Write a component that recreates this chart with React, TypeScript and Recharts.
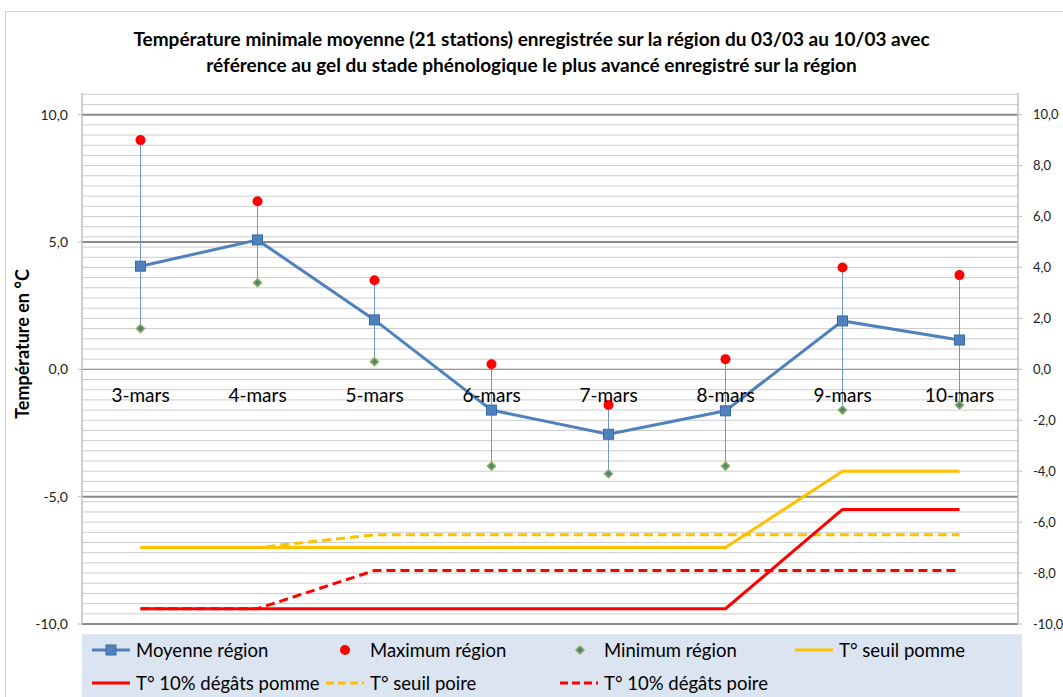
import React from 'react';
import {
  ComposedChart,
  Line,
  XAxis,
  YAxis,
  ReferenceLine,
  ErrorBar,
  LabelList,
} from 'recharts';

const dates = ['3-mars', '4-mars', '5-mars', '6-mars', '7-mars', '8-mars', '9-mars', '10-mars'];
const moyenne = [4.05, 5.08, 1.94, -1.6, -2.55, -1.63, 1.9, 1.15];
const maximum = [9.0, 6.6, 3.5, 0.2, -1.4, 0.4, 4.0, 3.7];
const minimum = [1.6, 3.4, 0.3, -3.8, -4.1, -3.8, -1.6, -1.4];
const seuilPomme = [-7, -7, -7, -7, -7, -7, -4, -4];
const degatsPomme = [-9.4, -9.4, -9.4, -9.4, -9.4, -9.4, -5.5, -5.5];
const seuilPoire = [-7, -7, -6.5, -6.5, -6.5, -6.5, -6.5, -6.5];
const degatsPoire = [-9.4, -9.4, -7.9, -7.9, -7.9, -7.9, -7.9, -7.9];

const leftTicks = [-10, -5, 0, 5, 10];
const rightTicks = [-10, -8, -6, -4, -2, 0, 2, 4, 6, 8, 10];
const majorLines = [-10, -5, 5, 10];
// minor grid every 0.4 (right axis minor unit)
const minorLines = Array.from({ length: 53 }, (_, i) => Math.round((-10 + i * 0.4) * 10) / 10);

const DOMAIN: [number, number] = [-10, 10.85];
const FONT = 'Lato, "Open Sans", sans-serif';
const BLUE = '#4f81bd';

const data = dates.map((d, i) => ({
  date: d,
  moyenne: moyenne[i],
  maximum: maximum[i],
  minimum: minimum[i],
  err: [moyenne[i] - minimum[i], maximum[i] - moyenne[i]],
  seuilPomme: seuilPomme[i],
  degatsPomme: degatsPomme[i],
  seuilPoire: seuilPoire[i],
  degatsPoire: degatsPoire[i],
}));

const fmt = (v: number) => v.toFixed(1).replace('.', ',');

const SquareDot = (props: any) => {
  const { cx, cy, index } = props;
  if (cx == null || cy == null) return <g key={index} />;
  return <rect key={index} x={cx - 5} y={cy - 5} width={10} height={10} fill={BLUE} stroke="#3a6aa5" strokeWidth={1} />;
};

const DiamondDot = (props: any) => {
  const { cx, cy, index } = props;
  if (cx == null || cy == null) return <g key={index} />;
  return (
    <path
      key={index}
      d={`M${cx},${cy - 4} L${cx + 4},${cy} L${cx},${cy + 4} L${cx - 4},${cy} Z`}
      fill="#4f7f8a"
      stroke="#8db052"
      strokeWidth={1.5}
    />
  );
};

const CatLabel = (props: any) => {
  const { x, y, value } = props;
  return (
    <text x={x} y={y + 33} textAnchor="middle" fontFamily={FONT} fontSize={19} fill="#000">
      {value}
    </text>
  );
};

const legendRow1 = [
  { name: 'Moyenne région', kind: 'moy', x: 92 },
  { name: 'Maximum région', kind: 'max', x: 326 },
  { name: 'Minimum région', kind: 'min', x: 560 },
  { name: 'T° seuil pomme', kind: 'line', color: '#ffc000', x: 795 },
];
const legendRow2 = [
  { name: 'T° 10% dégâts pomme', kind: 'line', color: '#ff0000', x: 92 },
  { name: 'T° seuil poire', kind: 'dash', color: '#ffc000', x: 326 },
  { name: 'T° 10% dégâts poire', kind: 'dash', color: '#ff0000', x: 560 },
];

const LegendItem = ({ item, top }: { item: any; top: number }) => (
  <div style={{ position: 'absolute', left: item.x - 82, top, height: 24, display: 'flex', alignItems: 'center' }}>
    <svg width={40} height={24} style={{ display: 'block' }}>
      {item.kind === 'moy' && (
        <>
          <line x1={0} y1={12} x2={38} y2={12} stroke={BLUE} strokeWidth={3} />
          <rect x={14} y={7} width={10} height={10} fill={BLUE} stroke="#3a6aa5" />
        </>
      )}
      {item.kind === 'max' && <circle cx={19} cy={12} r={5} fill="#ff0000" />}
      {item.kind === 'min' && (
        <path d="M20,8 L24,12 L20,16 L16,12 Z" fill="#4f7f8a" stroke="#8db052" strokeWidth={1.5} />
      )}
      {item.kind === 'line' && <line x1={0} y1={12} x2={38} y2={12} stroke={item.color} strokeWidth={3} />}
      {item.kind === 'dash' && (
        <line x1={0} y1={12} x2={38} y2={12} stroke={item.color} strokeWidth={3} strokeDasharray="8 4" />
      )}
    </svg>
    <span style={{ marginLeft: 4, fontFamily: FONT, fontSize: 18.5, color: '#000', whiteSpace: 'nowrap' }}>
      {item.name}
    </span>
  </div>
);

const App: React.FC = () => {
  return (
    <div
      style={{
        position: 'fixed',
        left: 0,
        top: 0,
        width: 1063,
        height: 697,
        overflow: 'hidden',
        background: '#fff',
      }}
    >
      <div
        style={{
          position: 'absolute',
          left: 5,
          top: 11,
          width: 1200,
          height: 800,
          border: '1px solid #d0d0d0',
        }}
      />
      <div
        style={{
          position: 'absolute',
          left: 0,
          top: 26,
          width: 1063,
          textAlign: 'center',
          fontFamily: FONT,
          fontWeight: 'bold',
          fontSize: 19,
          lineHeight: '26px',
          color: '#000',
        }}
      >
        Température minimale moyenne (21 stations) enregistrée sur la région du 03/03 au 10/03 avec
        <br />
        référence au gel du stade phénologique le plus avancé enregistré sur la région
      </div>
      <div
        style={{
          position: 'absolute',
          left: 22,
          top: 344,
          transform: 'translate(-50%, -50%) rotate(-90deg)',
          fontFamily: FONT,
          fontWeight: 'bold',
          fontSize: 18,
          whiteSpace: 'nowrap',
          color: '#000',
        }}
      >
        Température en °C
      </div>
      <div style={{ position: 'absolute', left: 0, top: 0 }}>
        <ComposedChart width={1063} height={697} data={data} margin={{ top: 93, right: 0, bottom: 73, left: 0 }}>
          <XAxis dataKey="date" hide padding={{ left: 58.5, right: 58.5 }} />
          <YAxis
            yAxisId="left"
            width={82}
            domain={DOMAIN}
            type="number"
            ticks={leftTicks}
            tickFormatter={fmt}
            allowDataOverflow
            axisLine={{ stroke: '#bfbfbf', strokeWidth: 1.5 }}
            tickLine={{ stroke: '#bfbfbf' }}
            tickSize={4}
            tickMargin={10}
            tick={{ fontFamily: FONT, fontSize: 14, fill: '#222' }}
          />
          <YAxis
            yAxisId="right"
            orientation="right"
            width={45}
            domain={DOMAIN}
            type="number"
            ticks={rightTicks}
            tickFormatter={fmt}
            allowDataOverflow
            axisLine={{ stroke: '#bfbfbf', strokeWidth: 1.5 }}
            tickLine={{ stroke: '#bfbfbf' }}
            tickSize={4}
            tickMargin={11}
            tick={{ fontFamily: FONT, fontSize: 13, fill: '#222', textAnchor: 'start' }}
          />
          {minorLines.map((v) => (
            <ReferenceLine key={`m${v}`} yAxisId="left" y={v} stroke="#cccccc" strokeWidth={1} ifOverflow="hidden" />
          ))}
          {majorLines.map((v) => (
            <ReferenceLine key={`M${v}`} yAxisId="left" y={v} stroke="#8a8a8a" strokeWidth={2} />
          ))}
          <ReferenceLine yAxisId="left" y={0} stroke="#8a8a8a" strokeWidth={1} />

          <Line
            yAxisId="left"
            dataKey={() => 0}
            stroke="none"
            dot={false}
            activeDot={false}
            isAnimationActive={false}
            legendType="none"
          >
            <LabelList dataKey="date" content={CatLabel} />
          </Line>

          <Line yAxisId="left" dataKey="seuilPomme" stroke="#ffc000" strokeWidth={3} dot={false} isAnimationActive={false} />
          <Line yAxisId="left" dataKey="seuilPoire" stroke="#ffc000" strokeWidth={3} strokeDasharray="9 5" dot={false} isAnimationActive={false} />
          <Line yAxisId="left" dataKey="degatsPomme" stroke="#ff0000" strokeWidth={3} dot={false} isAnimationActive={false} />
          <Line yAxisId="left" dataKey="degatsPoire" stroke="#ff0000" strokeWidth={3} strokeDasharray="9 5" dot={false} isAnimationActive={false} />

          <Line
            yAxisId="left"
            dataKey="moyenne"
            stroke={BLUE}
            strokeWidth={3}
            dot={SquareDot}
            isAnimationActive={false}
          >
            <ErrorBar dataKey="err" width={0} stroke="#6f98c8" strokeWidth={1} direction="y" isAnimationActive={false} />
          </Line>
          <Line
            yAxisId="left"
            dataKey="maximum"
            stroke="none"
            dot={{ r: 5, fill: '#ff0000', stroke: '#ff0000', strokeWidth: 0 }}
            isAnimationActive={false}
          />
          <Line yAxisId="left" dataKey="minimum" stroke="none" dot={DiamondDot} isAnimationActive={false} />
        </ComposedChart>
      </div>
      <div
        style={{
          position: 'absolute',
          left: 82,
          top: 634,
          width: 940,
          height: 70,
          background: '#dbe5f1',
        }}
      >
        {legendRow1.map((it) => (
          <LegendItem key={it.name} item={it} top={4} />
        ))}
        {legendRow2.map((it) => (
          <LegendItem key={it.name} item={it} top={37} />
        ))}
      </div>
    </div>
  );
};

export default App;
